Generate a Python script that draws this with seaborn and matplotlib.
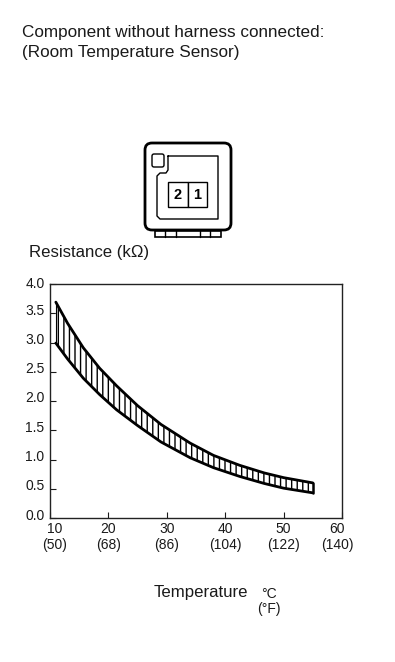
import matplotlib
matplotlib.use("Agg")
import matplotlib.pyplot as plt
from matplotlib.patches import FancyBboxPatch, Rectangle
from matplotlib.transforms import ScaledTranslation
import pandas as pd
import seaborn as sns

temps = [11, 13, 15.7, 18.5, 21.4, 25, 29, 34, 38, 42.5, 46.7, 50, 55]
upper = [3.69, 3.33, 2.91, 2.56, 2.26, 1.92, 1.60, 1.28, 1.07, 0.90, 0.77, 0.69, 0.60]
lower = [2.99, 2.72, 2.39, 2.11, 1.85, 1.58, 1.30, 1.03, 0.86, 0.71, 0.59, 0.51, 0.43]
xticks = [10, 20, 30, 40, 50, 60]
xfahr = [50, 68, 86, 104, 122, 140]
yticks = [0.0, 0.5, 1.0, 1.5, 2.0, 2.5, 3.0, 3.5, 4.0]

W, H = 395, 662
TXT = "#1a1a1a"
sns.set_theme(style="white")
plt.rcParams["font.family"] = ["Liberation Sans", "DejaVu Sans"]
plt.rcParams["hatch.linewidth"] = 1.0
fig = plt.figure(figsize=(W / 100, H / 100), dpi=100, facecolor="white")

# overlay in pixel coordinates for the header and the connector drawing
bg = fig.add_axes([0, 0, 1, 1])
bg.set_xlim(0, W)
bg.set_ylim(H, 0)
bg.axis("off")
bg.text(22, 33, "Component without harness connected:", fontsize=12.3, va="center", color=TXT)
bg.text(22, 53, "(Room Temperature Sensor)", fontsize=12.3, va="center", color=TXT)
bg.text(29, 252, "Resistance (k\u03a9)", fontsize=12.1, va="center", color=TXT)
bg.text(154, 593, "Temperature", fontsize=12.1, va="center", color=TXT)
bg.text(269, 594, "\u00b0C", fontsize=10, ha="center", va="center", color=TXT)
bg.text(269, 609, "(\u00b0F)", fontsize=10, ha="center", va="center", color=TXT)

bg.add_patch(FancyBboxPatch((145, 143), 86, 87, boxstyle="round,pad=0,rounding_size=7", fc="white", ec="black", lw=2))
bg.plot([168, 218, 218, 160, 157, 157, 160, 166, 168, 168],
        [156, 156, 219, 219, 216, 176, 173, 173, 170, 156], color="black", lw=1)
bg.add_patch(FancyBboxPatch((152, 154), 12, 13, boxstyle="round,pad=0,rounding_size=2", fc="white", ec="black", lw=1))
bg.add_patch(Rectangle((168, 182), 20, 25, fc="white", ec="black", lw=1))
bg.add_patch(Rectangle((188, 182), 19, 25, fc="white", ec="black", lw=1))
bg.text(178, 195, "2", fontsize=10.5, fontweight="bold", ha="center", va="center", color="black")
bg.text(197.5, 195, "1", fontsize=10.5, fontweight="bold", ha="center", va="center", color="black")
bg.add_patch(Rectangle((155, 231), 66, 6, fc="white", ec="black", lw=1.2))
for px in [165, 176, 200, 210]:
    bg.plot([px, px], [231, 237], color="black", lw=1)

ax = fig.add_axes([50 / W, 1 - 518 / H, (342 - 50) / W, (518 - 284) / H])
df = pd.DataFrame({"temp": temps, "upper": upper, "lower": lower})
ax.fill_between(df["temp"], df["lower"], df["upper"], facecolor="white", edgecolor="black", hatch="|||", lw=0)
sns.lineplot(data=df, x="temp", y="upper", color="black", lw=2, ax=ax)
sns.lineplot(data=df, x="temp", y="lower", color="black", lw=2, ax=ax)
ax.plot([temps[0], temps[0]], [lower[0], upper[0]], color="black", lw=0.8)
ax.plot([temps[-1], temps[-1]], [lower[-1], upper[-1]], color="black", lw=1.8)

ax.set_xlim(10, 60)
ax.set_ylim(0, 4)
ax.set_xticks(xticks)
ax.set_yticks(yticks)
ax.set_xticklabels([f"{c}\n({f})" for c, f in zip(xticks, xfahr)], fontsize=10, linespacing=1.15)
ax.set_yticklabels([f"{v:.1f}" for v in yticks], fontsize=10)
ax.tick_params(axis="x", direction="in", length=4, width=0.8, pad=3, bottom=True, colors=TXT)
ax.tick_params(axis="y", direction="in", length=4, width=0.8, pad=4, left=True, colors=TXT)
ax.set_xlabel("")
ax.set_ylabel("")

# labels do not sit exactly on their ticks in the original
ylabs = ax.get_yticklabels()
for lab in ylabs[:-1]:
    lab.set_transform(lab.get_transform() + ScaledTranslation(0, 4 / 100, fig.dpi_scale_trans))
ylabs[-1].set_transform(ylabs[-1].get_transform() + ScaledTranslation(0, 2 / 100, fig.dpi_scale_trans))
xlabs = ax.get_xticklabels()
xlabs[0].set_transform(xlabs[0].get_transform() + ScaledTranslation(5 / 100, 0, fig.dpi_scale_trans))
xlabs[-1].set_transform(xlabs[-1].get_transform() + ScaledTranslation(-5 / 100, 0, fig.dpi_scale_trans))

for s in ax.spines.values():
    s.set_color("#222222")
    s.set_linewidth(1)

fig.savefig("out.png", dpi=100)
